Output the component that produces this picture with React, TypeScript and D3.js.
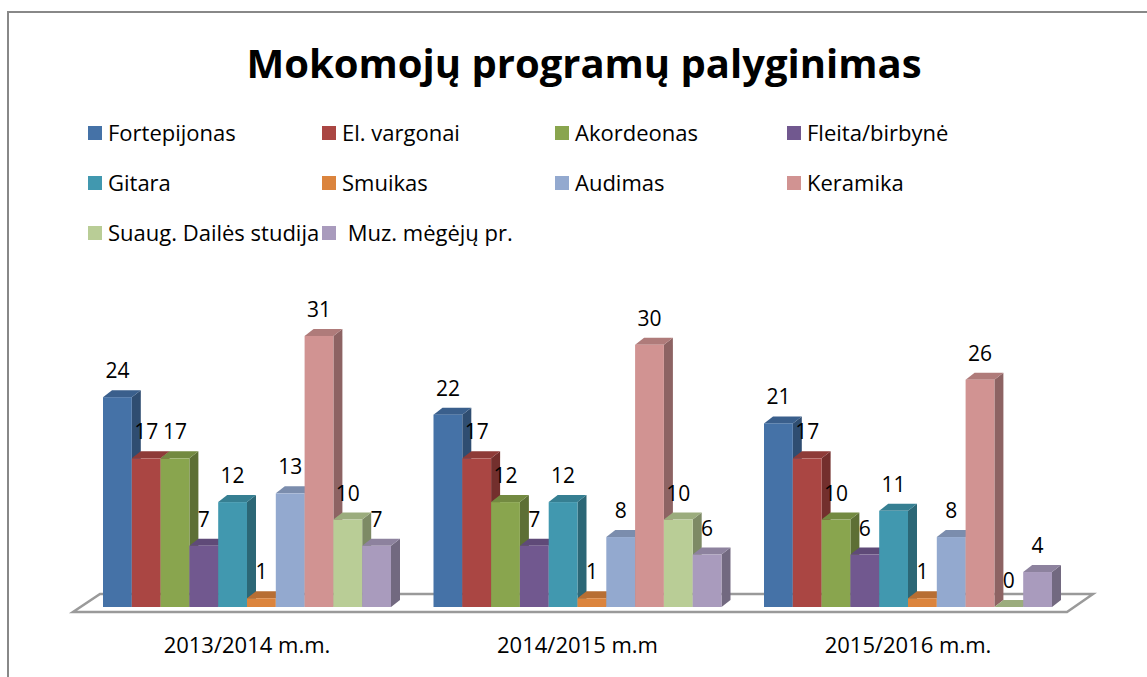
import React from 'react'
import * as d3 from 'd3'

const categories = ['2013/2014 m.m.', '2014/2015 m.m', '2015/2016 m.m.']
const seriesNames = [
  'Fortepijonas',
  'El. vargonai',
  'Akordeonas',
  'Fleita/birbynė',
  'Gitara',
  'Smuikas',
  'Audimas',
  'Keramika',
  'Suaug. Dailės studija',
  ' Muz. mėgėjų pr.',
]
const fortepijonas = [24, 22, 21]
const elVargonai = [17, 17, 17]
const akordeonas = [17, 12, 10]
const fleita = [7, 7, 6]
const gitara = [12, 12, 11]
const smuikas = [1, 1, 1]
const audimas = [13, 8, 8]
const keramika = [31, 30, 26]
const suaug = [10, 10, 0]
const muz = [7, 6, 4]
const seriesValues = [fortepijonas, elVargonai, akordeonas, fleita, gitara, smuikas, audimas, keramika, suaug, muz]
const colors = ['#4572A7', '#AA4643', '#89A54E', '#71588F', '#4198AF', '#DB843D', '#93A9CF', '#D19392', '#B9CD96', '#A99BBD']

const W = 1147
const H = 677
const FONT = '"Open Sans", "Noto Sans", sans-serif'

export default function App() {
  const x0 = d3.scaleBand<string>().domain(categories).range([103, 1052]).paddingInner(0.1286).paddingOuter(0)
  const x1 = d3.scaleBand<string>().domain(seriesNames).range([0, x0.bandwidth()]).padding(0)
  const y = d3.scaleLinear().domain([0, 35]).range([607, 301])

  const dx = 9
  const dy = 7
  const bw = x1.bandwidth()

  // floor (3D base plane)
  const floor = d3.path()
  floor.moveTo(73, 612)
  floor.lineTo(1067, 612)
  floor.lineTo(1093, 594)
  floor.lineTo(100, 594)
  floor.closePath()

  const legendCols = [88, 322, 555, 787]
  const legendRows = [133, 183, 233]

  return (
    <svg width={W} height={H} style={{ position: 'absolute', left: 0, top: 0 }} fontFamily={FONT}>
      <rect x={0} y={0} width={W} height={H} fill="#fff" />
      <rect x={8} y={12} width={W + 20} height={H + 20} fill="none" stroke="#888" strokeWidth={2} />
      <text x={584} y={78} textAnchor="middle" fontSize={40} fontWeight="bold" fill="#000">
        Mokomojų programų palyginimas
      </text>
      {seriesNames.map((s, i) => {
        const cx = legendCols[i % 4]
        const cy = legendRows[Math.floor(i / 4)]
        return (
          <g key={s}>
            <rect x={cx} y={cy - 7} width={14} height={14} fill={colors[i]} />
            <text x={cx + 20} y={cy} dy="0.35em" fontSize={22} fill="#000" style={{ whiteSpace: 'pre' }}>
              {s}
            </text>
          </g>
        )
      })}
      <path d={floor.toString()} fill="#fff" stroke="#9a9a9a" strokeWidth={2.5} />
      {categories.map((c, ci) => (
        <g key={c}>
          {seriesNames.map((s, si) => {
            const v = seriesValues[si][ci]
            const xl = (x0(c) || 0) + (x1(s) || 0)
            const yt = y(v)
            const yb = y(0)
            const col = d3.color(colors[si])!
            const side = col.darker(1.1).toString()
            const top = col.darker(0.5).toString()
            const sidePts = [
              [xl + bw, yt],
              [xl + bw + dx, yt - dy],
              [xl + bw + dx, yb - dy],
              [xl + bw, yb],
            ]
            const topPts = [
              [xl, yt],
              [xl + dx, yt - dy],
              [xl + bw + dx, yt - dy],
              [xl + bw, yt],
            ]
            return (
              <g key={s}>
                <polygon points={sidePts.map((p) => p.join(',')).join(' ')} fill={side} />
                <polygon points={topPts.map((p) => p.join(',')).join(' ')} fill={top} />
                <rect x={xl} y={yt} width={bw} height={yb - yt} fill={colors[si]} />
                <text x={xl + bw / 2} y={yt - 19} textAnchor="middle" fontSize={21} fill="#000">
                  {v}
                </text>
              </g>
            )
          })}
          <text x={(x0(c) || 0) + x0.bandwidth() / 2} y={653} textAnchor="middle" fontSize={22} fill="#000">
            {c}
          </text>
        </g>
      ))}
    </svg>
  )
}
